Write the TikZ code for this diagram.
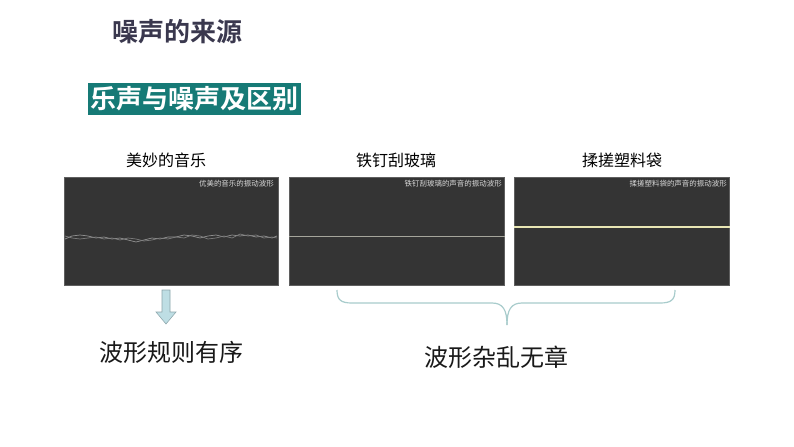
\documentclass[tikz,border=0pt]{standalone}
\usepackage{fontspec}
\setmainfont{Noto Sans CJK SC}
\newfontfamily\cjk{Noto Sans CJK SC}
\newfontfamily\cjkb{Noto Sans CJK SC Bold}
\definecolor{titlecol}{RGB}{58,56,78}
\definecolor{tealbox}{RGB}{22,122,118}
\definecolor{panelcol}{RGB}{52,52,52}
\definecolor{panelborder}{RGB}{95,95,95}
\definecolor{wavecol}{RGB}{150,150,150}
\definecolor{linecol}{RGB}{165,165,155}
\definecolor{yelcol}{RGB}{232,230,180}
\definecolor{arrowfill}{RGB}{190,222,228}
\definecolor{arrowline}{RGB}{140,165,170}
\definecolor{bracecol}{RGB}{168,204,204}
\tikzset{
  panel/.style={draw=panelborder, fill=panelcol, line width=0.6pt},
  captxt/.style={font=\cjk\fontsize{12}{14}\selectfont, text=black, inner sep=0pt},
  tinytxt/.style={font=\cjk\fontsize{5.6}{6}\selectfont, text=white!85!black, inner sep=0pt, anchor=east},
  bigtxt/.style={font=\cjk\fontsize{18}{20}\selectfont, text=black!90, inner sep=0pt}
}
\begin{document}
\begin{tikzpicture}[x=0.75pt,y=-0.75pt]
\useasboundingbox (0,0) rectangle (794,447);
\fill[white] (0,0) rectangle (794,447);

% title
\node[font=\cjkb\fontsize{19.5}{22}\selectfont, text=titlecol, inner sep=0pt] (title) at (178,32) {噪声的来源};

% teal box
\fill[tealbox] (88,83) rectangle (301,115);
\node[font=\cjkb\fontsize{19.5}{22}\selectfont, text=white, inner sep=0pt] (sub) at (194.5,99) {乐声与噪声及区别};

% captions
\node[captxt] (c1) at (166,160) {美妙的音乐};
\node[captxt] (c2) at (396,160) {铁钉刮玻璃};
\node[captxt] (c3) at (622,160) {揉搓塑料袋};

% panels
\node[panel, minimum width=214*0.75pt, minimum height=108*0.75pt, inner sep=0pt, anchor=north west] (p1) at (64,177) {};
\node[panel, minimum width=215*0.75pt, minimum height=108*0.75pt, inner sep=0pt, anchor=north west] (p2) at (289,177) {};
\node[panel, minimum width=215*0.75pt, minimum height=108*0.75pt, inner sep=0pt, anchor=north west] (p3) at (514,177) {};

\node[tinytxt] (t1) at (274,184) {优美的音乐的振动波形};
\node[tinytxt] (t2) at (502,184) {铁钉刮玻璃的声音的振动波形};
\node[tinytxt] (t3) at (727,184) {揉搓塑料袋的声音的振动波形};

% waves
\draw[wavecol, line width=0.5pt] (65,239) -- (72,236) -- (80,235) -- (88,236) -- (96,238) -- (104,237) -- (112,239) -- (120,238) -- (128,240) -- (136,242) -- (144,240) -- (152,238) -- (160,239) -- (168,237) -- (176,237) -- (184,235) -- (192,236) -- (200,238) -- (208,236) -- (216,235) -- (224,237) -- (232,235) -- (240,236) -- (248,235) -- (256,237) -- (264,236) -- (272,238) -- (277,236);
\draw[wavecol!85!black, line width=0.5pt] (65,236) -- (72,238) -- (80,239) -- (88,238) -- (96,237) -- (104,239) -- (112,238) -- (120,240) -- (128,238) -- (136,239) -- (144,241) -- (152,240) -- (160,238) -- (168,239) -- (176,237) -- (184,238) -- (192,235) -- (200,236) -- (208,239) -- (216,238) -- (224,236) -- (232,238) -- (240,234) -- (248,236) -- (256,235) -- (264,238) -- (272,237) -- (277,238);
\draw[linecol, line width=0.7pt] (p2.west |- 0,236) -- (p2.east |- 0,236);
\draw[yelcol, line width=0.9pt] (p3.west |- 0,227) -- (p3.east |- 0,227);

% arrow
\draw[arrowline, fill=arrowfill, line width=0.4pt] (162,290) -- (170,290) -- (170,312) -- (176,312) -- (166,324) -- (156,312) -- (162,312) -- cycle;

% brace
\coordinate (bl) at (337,290);
\coordinate (br) at (675,290);
\coordinate (bt) at (507,325);
\draw[bracecol, line width=0.9pt] (bl) .. controls (337,300) and (341,303) .. (352,303) -- (492,303) .. controls (503,303) and (507,310) .. (bt);
\draw[bracecol, line width=0.9pt] (br) .. controls (675,300) and (671,303) .. (660,303) -- (522,303) .. controls (511,303) and (507,310) .. (bt);

% bottom labels
\node[bigtxt] (l1) at (171,352) {波形规则有序};
\node[bigtxt] (l2) at (496,357) {波形杂乱无章};
\end{tikzpicture}
\end{document}
